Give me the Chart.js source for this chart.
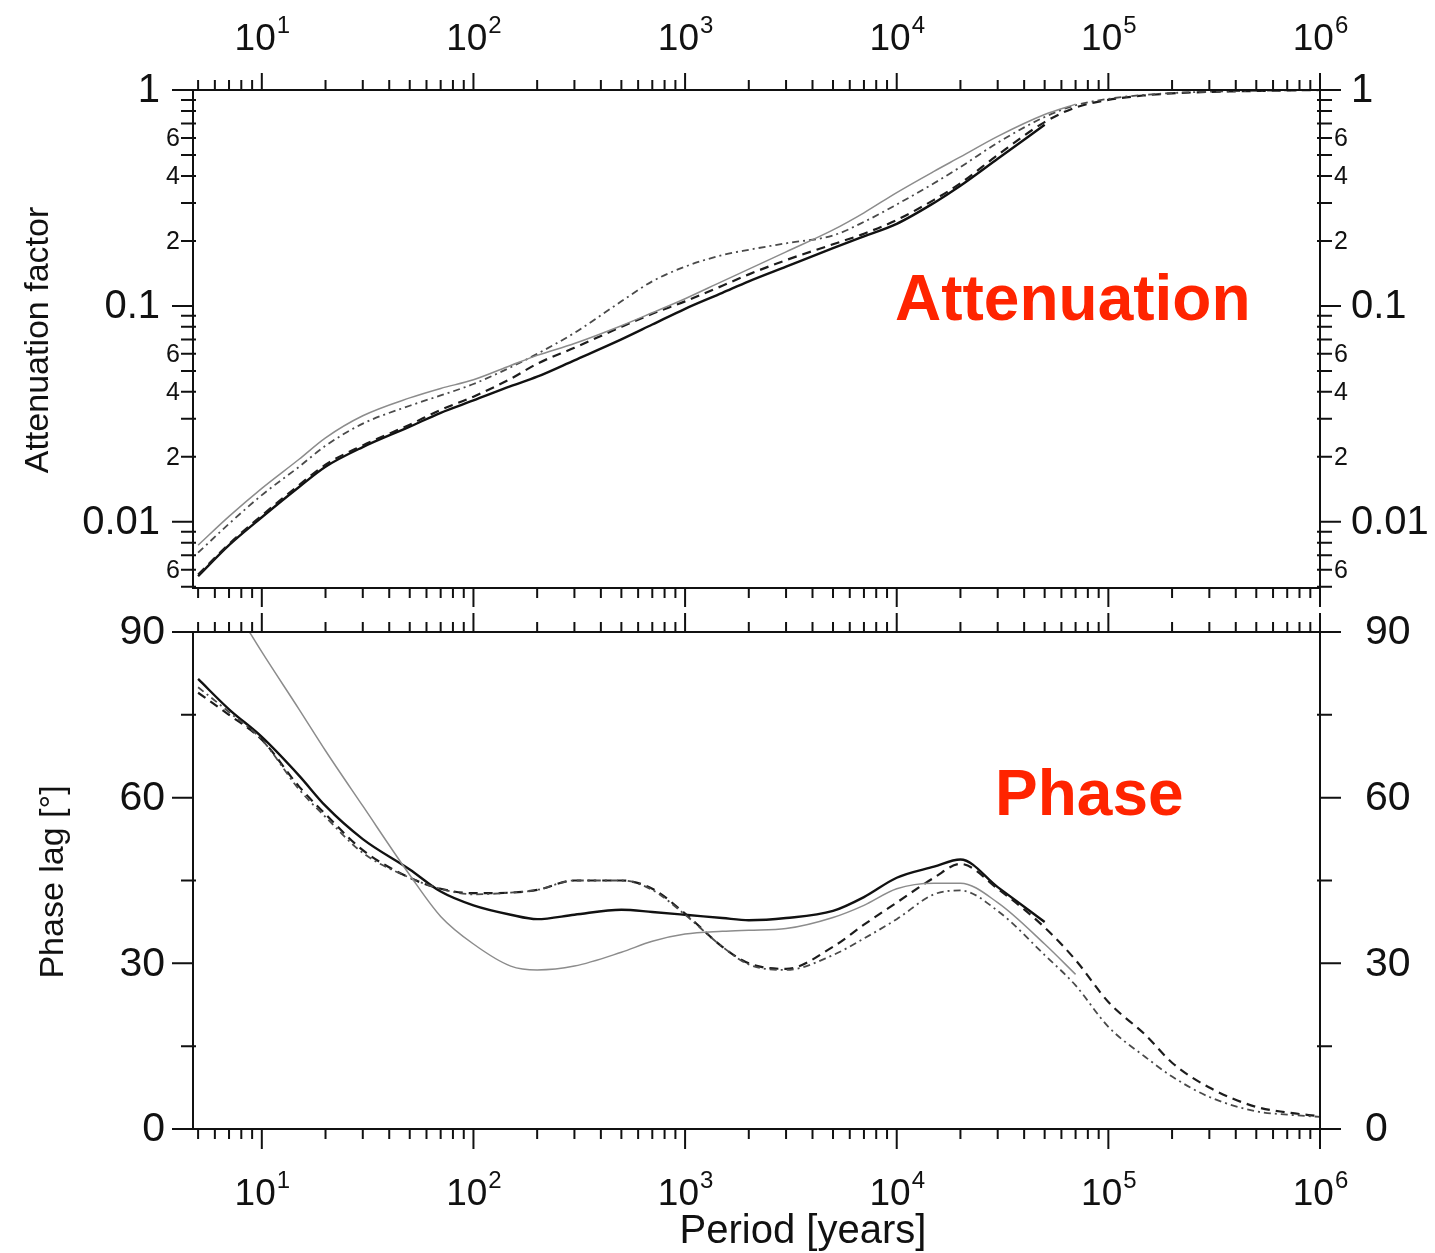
<!DOCTYPE html>
<html>
<head>
<meta charset="utf-8">
<title>Attenuation and phase lag vs period</title>
<script src="https://cdn.jsdelivr.net/npm/chart.js@4.4.1/dist/chart.umd.min.js"></script>
<style>
  html, body { margin: 0; padding: 0; background: #fff; }
  #wrap { position: relative; width: 1435px; height: 1253px; }
  #attChart { position: absolute; left: 0; top: 0; }
  #phaseChart { position: absolute; left: 0; top: 612px; }
</style>
</head>
<body>
<div id="wrap">
  <canvas id="attChart" width="1435" height="612"></canvas>
  <canvas id="phaseChart" width="1435" height="641"></canvas>
</div>
<script>
const FONT = '"Liberation Sans", Arial, Helvetica, sans-serif';

// Period axis (years), shared by every curve
const periods = [5, 7, 10, 15, 20, 30, 50, 70, 100, 150, 200, 300, 500, 700,
  1000, 1500, 2000, 3000, 5000, 7000, 1e4, 1.5e4, 2e4, 3e4, 5e4, 7e4,
  1e5, 1.5e5, 2e5, 3e5, 5e5, 7e5, 1e6];

// Attenuation factor for the four runs
const attSolid = [0.0056, 0.0078, 0.0105, 0.0145, 0.018, 0.0222, 0.0276, 0.032, 0.0365, 0.0425, 0.047, 0.056, 0.07, 0.082,
  0.097, 0.115, 0.13, 0.152, 0.185, 0.21, 0.24, 0.30, 0.36, 0.48, 0.69, null,
  null, null, null, null, null, null, null];
const attDashed = [0.0057, 0.0079, 0.0107, 0.0148, 0.0184, 0.0226, 0.0282, 0.033, 0.038, 0.046, 0.054, 0.064, 0.08, 0.092,
  0.105, 0.124, 0.14, 0.163, 0.193, 0.216, 0.25, 0.31, 0.37, 0.5, 0.71, 0.83,
  0.9, 0.945, 0.965, 0.98, 0.99, 0.995, 1.0];
const attThin = [0.0078, 0.0106, 0.0143, 0.0195, 0.0245, 0.031, 0.0375, 0.0415, 0.0455, 0.053, 0.059, 0.067, 0.081, 0.093,
  0.108, 0.13, 0.148, 0.178, 0.225, 0.27, 0.335, 0.42, 0.49, 0.61, 0.77, 0.86,
  null, null, null, null, null, null, null];
const attDashDot = [0.0072, 0.0098, 0.0133, 0.018, 0.0225, 0.0285, 0.0345, 0.0385, 0.0435, 0.052, 0.06, 0.075, 0.105, 0.13,
  0.152, 0.172, 0.182, 0.195, 0.212, 0.245, 0.295, 0.37, 0.44, 0.57, 0.75, 0.85,
  0.91, 0.95, 0.968, 0.982, 0.992, 0.996, 1.0];

// Phase lag in degrees for the same runs
const phaseSolid = [81.5, 76, 71, 64, 58.5, 52.5, 47, 43, 40.5, 38.8, 38, 38.8, 39.7, 39.3,
  38.8, 38.2, 37.8, 38.2, 39.5, 42, 45.5, 47.5, 48.8, 43.8, 37.5, null,
  null, null, null, null, null, null, null];
const phaseDashed = [79, 75, 70.5, 62, 57, 50.5, 45.5, 43.5, 42.7, 42.8, 43.3, 45, 45, 43.5,
  39, 33, 30, 29, 33, 37, 41, 45.5, 48, 43.5, 36.5, 30.6,
  23, 17, 12, 7.5, 4, 3, 2.3];
const phaseThin = [104.5, 96, 86.4, 76, 68.5, 58.5, 46, 38.5, 33.5, 29.5, 28.8, 29.5, 32, 34,
  35.3, 35.8, 36, 36.3, 38.3, 40.5, 43.5, 44.5, 44.5, 41, 33.5, 28,
  null, null, null, null, null, null, null];
const phaseDashDot = [80, 75.5, 70.5, 61.5, 56.5, 50, 45.5, 43.5, 42.5, 42.8, 43.3, 45, 45, 43.3,
  38.8, 33, 29.8, 28.8, 31.5, 34.5, 38, 42.5, 43.2, 39.5, 31.5, 26,
  18.5, 13, 9.5, 5.8, 3.2, 2.6, 2.2];

// Axis labelling
const decadeExponents = [1, 2, 3, 4, 5, 6];
const attMajorTicks = [0.01, 0.1, 1];
const attMajorLabels = ['0.01', '0.1', '1'];
const attMinorLabelled = [2, 4, 6];
const phaseMajorTicks = [0, 30, 60, 90];
const phaseMinorTicks = [15, 45, 75];

const X_MIN = 4.73, X_MAX = 1e6;

// line looks: solid, dashed, thin grey, dash-dot
const styles = {
  solid:   { color: '#111111', width: 2.4, dash: [] },
  dashed:  { color: '#1c1c1c', width: 2.2, dash: [9, 6] },
  thin:    { color: '#8c8c8c', width: 1.5, dash: [] },
  dashdot: { color: '#4a4a4a', width: 1.8, dash: [7, 4, 2, 4] }
};

function toPoints(vals) {
  return periods.map((p, i) => ({ x: p, y: vals[i] }));
}

function makeDataset(vals, st) {
  return {
    data: toPoints(vals),
    borderColor: st.color,
    borderWidth: st.width,
    borderDash: st.dash,
    pointRadius: 0,
    fill: false,
    cubicInterpolationMode: 'monotone',
    spanGaps: false
  };
}

// all 1..9 x 10^k values inside [min, max]
function logTicks(min, max) {
  const out = [];
  for (let e = Math.floor(Math.log10(min)); e <= Math.ceil(Math.log10(max)); e++) {
    for (let m = 1; m <= 9; m++) {
      const v = m * Math.pow(10, e);
      if (v >= min * 0.9999 && v <= max * 1.0001) out.push({ v: v, m: m });
    }
  }
  return out;
}

function drawPower(ctx, x, baseline, exp) {
  ctx.font = '37px ' + FONT;
  const wb = ctx.measureText('10').width;
  ctx.font = '24px ' + FONT;
  const we = ctx.measureText(String(exp)).width;
  const left = x - (wb + we) / 2;
  ctx.textAlign = 'left';
  ctx.textBaseline = 'alphabetic';
  ctx.font = '37px ' + FONT;
  ctx.fillText('10', left, baseline);
  ctx.font = '24px ' + FONT;
  ctx.fillText(String(exp), left + wb + 1, baseline - 17);
}

// frame, outward ticks and tick labels for one panel
function panelPlugin(cfg) {
  return {
    id: 'panelFrame',
    afterDatasetsDraw(chart) {
      const ctx = chart.ctx;
      const a = chart.chartArea;
      const xs = chart.scales.x, ys = chart.scales.y;
      ctx.save();
      ctx.strokeStyle = '#111';
      ctx.lineWidth = 2;
      ctx.setLineDash([]);
      ctx.strokeRect(a.left, a.top, a.right - a.left, a.bottom - a.top);

      ctx.beginPath();
      logTicks(X_MIN, X_MAX).forEach(t => {
        const px = xs.getPixelForValue(t.v);
        const up = t.m === 1 ? cfg.topMajor : 10;
        const down = t.m === 1 ? cfg.bottomMajor : 10;
        ctx.moveTo(px, a.top); ctx.lineTo(px, a.top - up);
        ctx.moveTo(px, a.bottom); ctx.lineTo(px, a.bottom + down);
      });
      cfg.yTicks().forEach(t => {
        const py = ys.getPixelForValue(t.v);
        const len = t.major ? 21 : 12;
        ctx.moveTo(a.left - len, py); ctx.lineTo(a.left + (t.major ? 0 : 3), py);
        ctx.moveTo(a.right - (t.major ? 0 : 3), py); ctx.lineTo(a.right + len, py);
      });
      ctx.stroke();

      ctx.fillStyle = '#111';
      // period labels
      decadeExponents.forEach(e => {
        const px = xs.getPixelForValue(Math.pow(10, e));
        drawPower(ctx, px, cfg.xLabelBaseline(a), e);
      });
      // value labels both sides
      ctx.textBaseline = 'middle';
      cfg.yLabels().forEach(l => {
        const py = ys.getPixelForValue(l.v);
        ctx.font = l.size + 'px ' + FONT;
        ctx.textAlign = 'right';
        ctx.fillText(l.text, a.left - l.gapLeft, py + 1);
        ctx.textAlign = 'left';
        ctx.fillText(l.text, a.right + l.gapRight, py + 1);
      });
      cfg.extra(ctx, a);
      ctx.restore();
    }
  };
}

const baseOptions = (padding, yScale) => ({
  responsive: false,
  animation: false,
  layout: { padding: padding },
  plugins: { legend: { display: false }, tooltip: { enabled: false } },
  scales: {
    x: { type: 'logarithmic', min: X_MIN, max: X_MAX, bounds: 'data', display: false },
    y: yScale
  }
});

// --- attenuation panel ---
new Chart(document.getElementById('attChart').getContext('2d'), {
  type: 'line',
  data: {
    datasets: [
      makeDataset(attThin, styles.thin),
      makeDataset(attDashDot, styles.dashdot),
      makeDataset(attDashed, styles.dashed),
      makeDataset(attSolid, styles.solid)
    ]
  },
  options: baseOptions({ left: 193, right: 115, top: 90, bottom: 24 },
    { type: 'logarithmic', min: 0.00494, max: 1, bounds: 'data', display: false }),
  plugins: [panelPlugin({
    topMajor: 17,
    bottomMajor: 19,
    yTicks: () => logTicks(0.00494, 1).map(t => ({ v: t.v, major: t.m === 1 })),
    yLabels: () => {
      const out = attMajorTicks.map((v, i) => ({ v: v, text: attMajorLabels[i], size: 40, gapLeft: 33, gapRight: 31 }));
      attMajorTicks.forEach(dec => {
        attMinorLabelled.forEach(m => {
          const v = m * dec / 10;
          if (v >= 0.00494) out.push({ v: v, text: String(m), size: 25, gapLeft: 13, gapRight: 14 });
        });
      });
      return out;
    },
    xLabelBaseline: () => 50,
    extra: (ctx, a) => {
      ctx.save();
      ctx.translate(48, 340);
      ctx.rotate(-Math.PI / 2);
      ctx.textAlign = 'center';
      ctx.textBaseline = 'alphabetic';
      ctx.font = '34px ' + FONT;
      ctx.fillStyle = '#111';
      ctx.fillText('Attenuation factor', 0, 0);
      ctx.restore();
      ctx.fillStyle = '#ff2400';
      ctx.font = 'bold 64px ' + FONT;
      ctx.textAlign = 'left';
      ctx.textBaseline = 'alphabetic';
      ctx.fillText('Attenuation', 895, 320);
    }
  })]
});

// --- phase panel ---
new Chart(document.getElementById('phaseChart').getContext('2d'), {
  type: 'line',
  data: {
    datasets: [
      makeDataset(phaseThin, styles.thin),
      makeDataset(phaseDashDot, styles.dashdot),
      makeDataset(phaseDashed, styles.dashed),
      makeDataset(phaseSolid, styles.solid)
    ]
  },
  options: baseOptions({ left: 193, right: 115, top: 20, bottom: 124 },
    { type: 'linear', min: 0, max: 90, display: false }),
  plugins: [panelPlugin({
    topMajor: 19,
    bottomMajor: 20,
    yTicks: () => phaseMajorTicks.map(v => ({ v: v, major: true }))
      .concat(phaseMinorTicks.map(v => ({ v: v, major: false }))),
    yLabels: () => phaseMajorTicks.map(v => ({ v: v, text: String(v), size: 41, gapLeft: 28, gapRight: 45 })),
    xLabelBaseline: a => a.bottom + 76,
    extra: (ctx, a) => {
      ctx.save();
      ctx.translate(63, 270);
      ctx.rotate(-Math.PI / 2);
      ctx.textAlign = 'center';
      ctx.textBaseline = 'alphabetic';
      ctx.font = '34px ' + FONT;
      ctx.fillStyle = '#111';
      ctx.fillText('Phase lag [\u00b0]', 0, 0);
      ctx.restore();
      ctx.fillStyle = '#111';
      ctx.font = '40px ' + FONT;
      ctx.textAlign = 'center';
      ctx.textBaseline = 'alphabetic';
      ctx.fillText('Period [years]', 803, 631);
      ctx.fillStyle = '#ff2400';
      ctx.font = 'bold 64px ' + FONT;
      ctx.textAlign = 'left';
      ctx.fillText('Phase', 995, 203);
    }
  })]
});
</script>
</body>
</html>
